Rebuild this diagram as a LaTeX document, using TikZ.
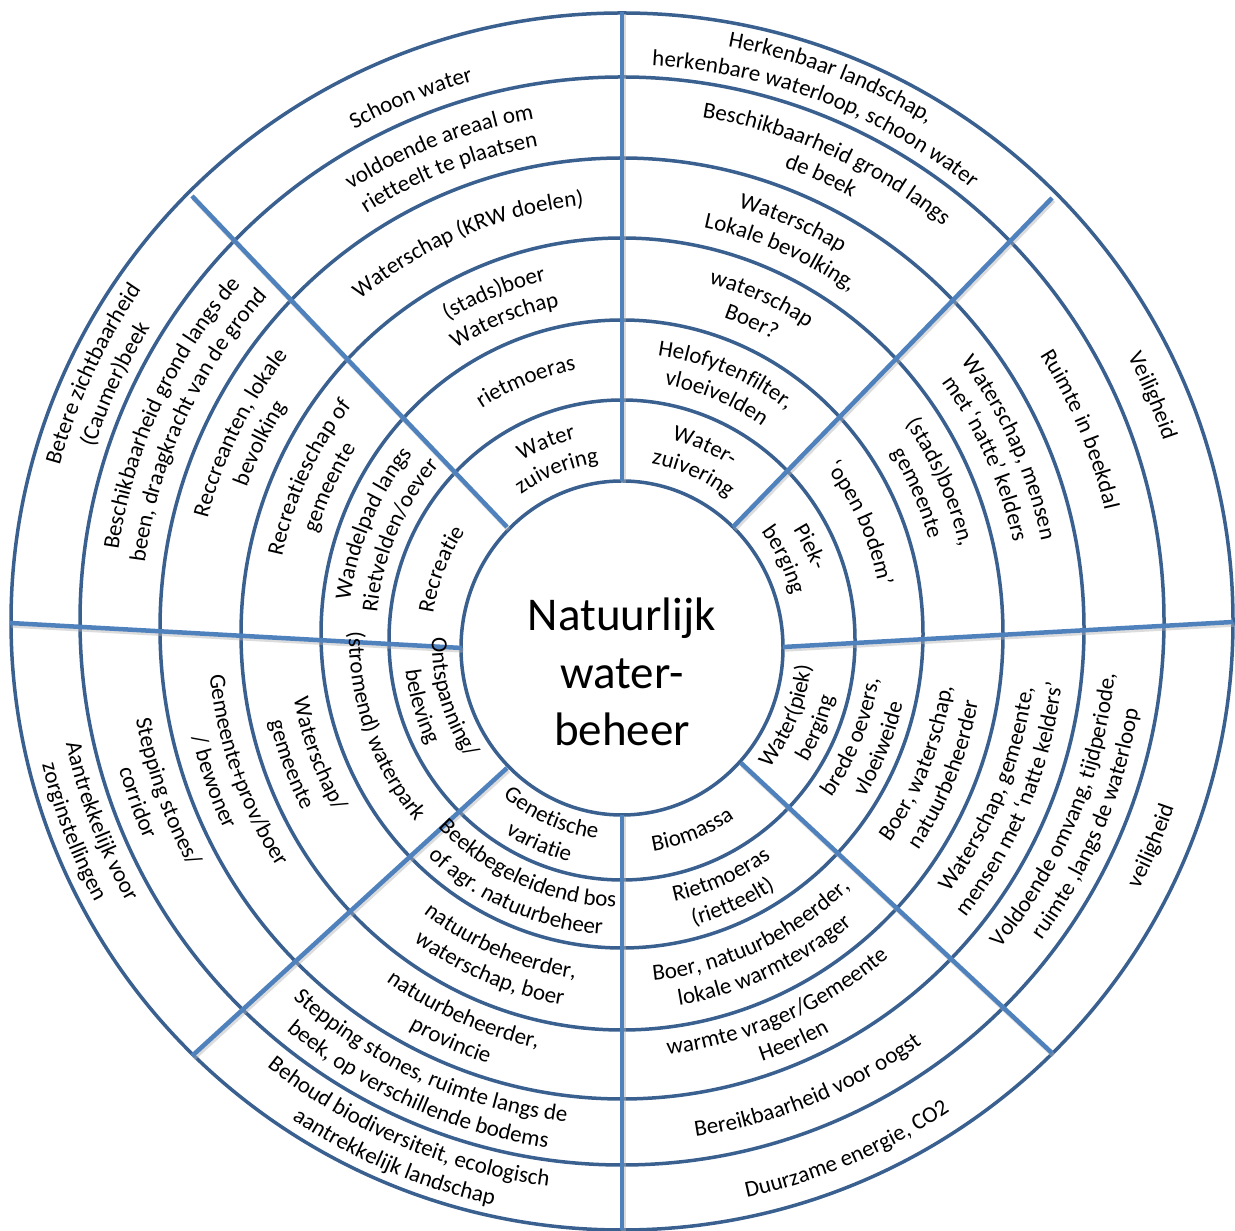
\documentclass[tikz,border=0pt]{standalone}
\usepackage{fontspec}
\setmainfont{Carlito}
\usetikzlibrary{decorations.text}
\definecolor{ringblue}{HTML}{3A6090}
\definecolor{spokeblue}{HTML}{4F81BD}
\newcommand\labfont{\fontsize{23}{28}\selectfont}
\def\rxA{197}\def\ryA{203.5}
\def\rxB{267}\def\ryB{277}
\def\rxC{341}\def\ryC{355}
\def\rxD{421.5}\def\ryD{433}
\def\rxE{502}\def\ryE{507}
\def\rxF{576.5}\def\ryF{577}
% clockwise arc text (upper half, tops outward)
\newcommand\cwl[4]{%
  \edef\RXb{\csname rx#1\endcsname}\edef\RYb{\csname ry#1\endcsname}%
  \pgfmathsetmacro\RX{\RXb+(#3)}\pgfmathsetmacro\RY{\RYb+(#3)}%
  \pgfmathsetmacro\AS{#2+40}\pgfmathsetmacro\AE{#2-40}%
  \path[shift={(c#1)},decorate,decoration={text along path,text align=center,text={|\labfont|#4}}]
    ({\AS}:{\RX} and {\RY}) arc[start angle=\AS,end angle=\AE,x radius=\RX,y radius=\RY];}
% counter-clockwise arc text (lower half, tops inward)
\newcommand\ccwl[4]{%
  \edef\RXb{\csname rx#1\endcsname}\edef\RYb{\csname ry#1\endcsname}%
  \pgfmathsetmacro\RX{\RXb+(#3)}\pgfmathsetmacro\RY{\RYb+(#3)}%
  \pgfmathsetmacro\AS{#2-40}\pgfmathsetmacro\AE{#2+40}%
  \path[shift={(c#1)},decorate,decoration={text along path,text align=center,text={|\labfont|#4}}]
    ({\AS}:{\RX} and {\RY}) arc[start angle=\AS,end angle=\AE,x radius=\RX,y radius=\RY];}
\begin{document}
\begin{tikzpicture}[x=1pt,y=1pt,
  ring/.style={draw=ringblue,line width=3.5pt},
  spoke/.style={draw=spokeblue,line width=4.5pt,line cap=butt},
  spokeshadow/.style={draw=black!30,line width=4.5pt,line cap=butt,opacity=0.45}]
\useasboundingbox (0,0) rectangle (1235,1231);
\fill[white] (0,0) rectangle (1235,1231);
% ring text centres
\coordinate (cA) at (622,587);
\coordinate (cB) at (622,594);
\coordinate (cC) at (622,597);
\coordinate (cD) at (622,600);
\coordinate (cE) at (622,606);
\coordinate (cF) at (622,610);
% rings
\draw[ring] (622,583) ellipse [x radius=161, y radius=167];
\draw[ring] (622,591) ellipse [x radius=233, y radius=240];
\draw[ring] (622,597) ellipse [x radius=301, y radius=314];
\draw[ring] (622,597) ellipse [x radius=381, y radius=396];
\draw[ring] (622,602.5) ellipse [x radius=462, y radius=470.5];
\draw[ring] (622,610) ellipse [x radius=542, y radius=544];
\draw[ring] (622,609.5) ellipse [x radius=611, y radius=608.5];
% spoke end points
\coordinate (sNi) at (622,750);  \coordinate (sNo) at (622,1219);
\coordinate (sSi) at (622,416);  \coordinate (sSo) at (622,1);
\coordinate (sEi) at (783,584);  \coordinate (sEo) at (1233,609);
\coordinate (sWi) at (462,583);  \coordinate (sWo) at (10,608);
\coordinate (sNEi) at (733,704); \coordinate (sNEo) at (1052,1033);
\coordinate (sSEi) at (741,468); \coordinate (sSEo) at (1052,178);
\coordinate (sNWi) at (507,704); \coordinate (sNWo) at (192,1035);
\coordinate (sSWi) at (507,463); \coordinate (sSWo) at (192,175);
\foreach \s in {N,S,E,W,NE,SE,NW,SW}{\draw[spokeshadow] ([shift={(1.5,-2.5)}]s\s i) -- ([shift={(1.5,-2.5)}]s\s o);}
\foreach \s in {N,S,E,W,NE,SE,NW,SW}{\draw[spoke] (s\s i) -- (s\s o);}
% ---- top-left sector
\cwl{F}{112}{-17}{Schoon water}
\cwl{E}{111}{7}{voldoende areaal om}
\cwl{E}{111}{-21}{rietteelt te plaatsen}
\cwl{D}{112}{-6}{Waterschap (KRW doelen)}
\cwl{C}{111}{7}{(stads)boer}
\cwl{C}{111}{-21}{Waterschap}
\cwl{B}{111}{-6}{rietmoeras}
\cwl{A}{111}{7}{Water}
\cwl{A}{111}{-21}{zuivering}
% ---- top-right sector
\cwl{F}{69}{7}{Herkenbaar landschap,}
\cwl{F}{69}{-21}{herkenbare waterloop, schoon water}
\cwl{E}{66}{7}{Beschikbaarheid  grond langs}
\cwl{E}{66}{-21}{de beek}
\cwl{D}{67}{7}{Waterschap}
\cwl{D}{67}{-21}{Lokale bevolking,}
\cwl{C}{67}{7}{waterschap}
\cwl{C}{67}{-21}{Boer?}
\cwl{B}{68}{7}{Helofytenfilter,}
\cwl{B}{68}{-21}{vloeivelden}
\cwl{A}{67}{7}{Water-}
\cwl{A}{67}{-21}{zuivering}
% ---- right-upper sector
\cwl{F}{23}{-6}{Veiligheid}
\cwl{E}{23}{-6}{Ruimte in beekdal}
\cwl{D}{25}{7}{Waterschap, mensen}
\cwl{D}{25}{-21}{met ‘natte’ kelders}
\cwl{C}{25}{7}{(stads)boeren,}
\cwl{C}{25}{-21}{gemeente}
\cwl{B}{25}{-6}{‘open bodem’}
\cwl{A}{27}{7}{Piek-}
\cwl{A}{27}{-21}{berging}
% ---- left-upper sector
\cwl{A}{158}{-6}{Recreatie}
\cwl{B}{156}{7}{Wandelpad langs}
\cwl{B}{156}{-21}{Rietvelden/oever}
\cwl{C}{154}{7}{Recreatieschap of}
\cwl{C}{154}{-21}{gemeente}
\cwl{D}{153}{7}{Reccreanten, lokale}
\cwl{D}{153}{-21}{bevolking}
\cwl{E}{155}{7}{Beschikbaarheid grond langs de}
\cwl{E}{155}{-21}{been, draagkracht van de grond}
\cwl{F}{155}{7}{Betere zichtbaarheid}
\cwl{F}{155}{-21}{(Caumer)beek}
% ---- right-lower sector
\ccwl{A}{-23}{-7}{Water(piek)}
\ccwl{A}{-23}{21}{berging}
\ccwl{B}{-23}{-7}{brede oevers,}
\ccwl{B}{-23}{21}{vloeiweide}
\ccwl{C}{-23}{-7}{Boer, waterschap,}
\ccwl{C}{-23}{21}{natuurbeheerder}
\ccwl{D}{-23}{-7}{Waterschap, gemeente,}
\ccwl{D}{-23}{21}{mensen met ‘natte kelders’}
\ccwl{E}{-23}{-7}{Voldoende omvang,  tijdperiode,}
\ccwl{E}{-23}{21}{ruimte ,langs de waterloop}
\ccwl{F}{-23}{6}{veiligheid}
% ---- bottom-right sector
\ccwl{A}{-69}{6}{Biomassa}
\ccwl{B}{-67}{-7}{Rietmoeras}
\ccwl{B}{-67}{21}{(rietteelt)}
\ccwl{C}{-66}{-7}{Boer, natuurbeheerder,}
\ccwl{C}{-66}{21}{lokale warmtevrager}
\ccwl{D}{-67}{-7}{warmte vrager/Gemeente}
\ccwl{D}{-67}{21}{Heerlen}
\ccwl{E}{-68}{10}{Bereikbaarheid voor oogst}
\ccwl{F}{-67}{13}{Duurzame energie,  CO2}
% ---- bottom-left sector
\ccwl{A}{247}{-7}{Genetische}
\ccwl{A}{247}{21}{variatie}
\ccwl{B}{247}{-7}{Beekbegeleidend bos}
\ccwl{B}{247}{21}{of agr. natuurbeheer}
\ccwl{C}{248}{-7}{natuurbeheerder,}
\ccwl{C}{248}{21}{waterschap, boer}
\ccwl{D}{247}{-7}{natuurbeheerder,}
\ccwl{D}{247}{21}{provincie}
\ccwl{E}{246}{-7}{Stepping stones, ruimte langs de}
\ccwl{E}{246}{21}{beek, op verschillende  bodems}
\ccwl{F}{247}{-7}{Behoud biodiversiteit, ecologisch}
\ccwl{F}{247}{21}{aantrekkelijk landschap}
% ---- left-lower sector
\ccwl{A}{197}{-7}{Ontspanning/}
\ccwl{A}{197}{21}{beleving}
\ccwl{B}{200}{6}{(stromend) waterpark}
\ccwl{C}{201}{-7}{Waterschap/}
\ccwl{C}{201}{21}{gemeente}
\ccwl{D}{200}{-7}{Gemeente+prov/boer}
\ccwl{D}{200}{21}{/ bewoner}
\ccwl{E}{200}{-7}{Stepping stones/}
\ccwl{E}{200}{21}{corridor}
\ccwl{F}{201}{-7}{Aantrekkelijk voor}
\ccwl{F}{201}{21}{zorginstellingen}
% ---- centre
\node[font=\fontsize{47}{57.5}\selectfont, align=center, inner sep=0pt] (title) at (622,559) {Natuurlijk\\water-\\beheer};
\end{tikzpicture}
\end{document}
